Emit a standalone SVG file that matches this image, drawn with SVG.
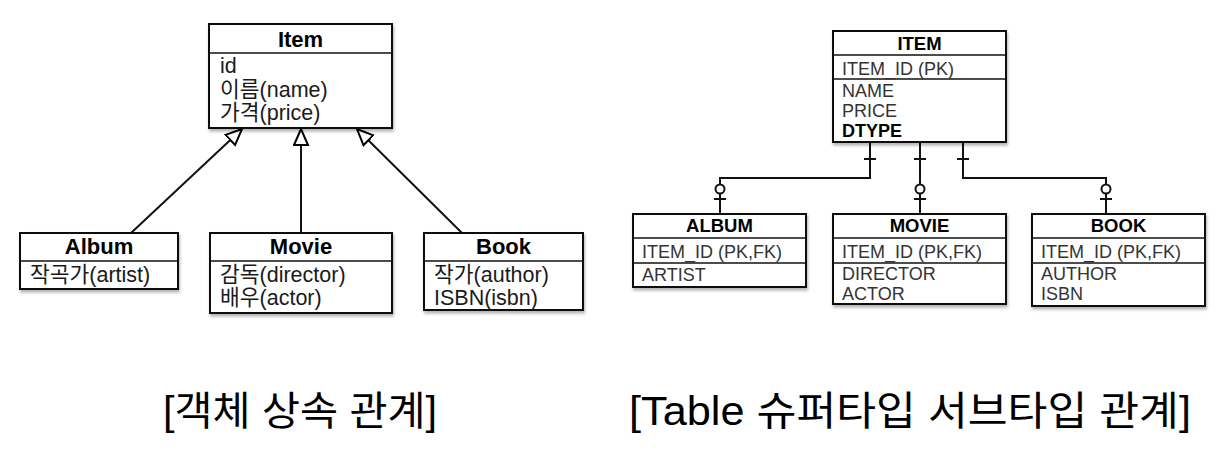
<svg xmlns="http://www.w3.org/2000/svg" width="1220" height="460" viewBox="0 0 1220 460">
<defs>
<filter id="sh" x="-10%" y="-10%" width="120%" height="130%">
<feDropShadow dx="1" dy="2.5" stdDeviation="1.5" flood-color="#000" flood-opacity="0.3"/>
</filter>
<marker id="tri" markerUnits="userSpaceOnUse" markerWidth="20" markerHeight="20" refX="17" refY="8" orient="auto">
<path d="M1,1 L17,8 L1,15 Z" fill="#fff" stroke="#000" stroke-width="2"/>
</marker>
<style>
.box{fill:#fff;stroke:#111;stroke-width:2;filter:url(#sh)}
.div{stroke:#111;stroke-width:1.6}
.t{font-family:"Liberation Sans","Noto Sans CJK KR",sans-serif;font-size:21.5px;fill:#1a1a1a}
.h{font-family:"Liberation Sans","Noto Sans CJK KR",sans-serif;font-size:22px;fill:#000;font-weight:bold;text-anchor:middle}
.r{font-family:"Liberation Sans","Noto Sans CJK KR",sans-serif;font-size:18px;fill:#333}
.rh{font-family:"Liberation Sans","Noto Sans CJK KR",sans-serif;font-size:18.5px;fill:#000;font-weight:bold;text-anchor:middle}
.cap{font-family:"Liberation Sans","Noto Sans CJK KR",sans-serif;font-size:40px;fill:#000;text-anchor:middle}
.ln{stroke:#111;stroke-width:2;fill:none}
.ring{fill:#fff;stroke:#111;stroke-width:2}
</style>
</defs>

<g id="connectors">
<line class="ln" x1="131" y1="233" x2="242" y2="129" marker-end="url(#tri)"/>
<line class="ln" x1="301" y1="233" x2="301" y2="129" marker-end="url(#tri)"/>
<line class="ln" x1="462" y1="233" x2="357" y2="129" marker-end="url(#tri)"/>

<polyline class="ln" points="870,142 870,178 720,178 720,214"/>
<line class="ln" x1="864" y1="159" x2="876" y2="159"/>
<circle class="ring" cx="720" cy="189" r="4.5"/>
<line class="ln" x1="714" y1="199" x2="726" y2="199"/>

<line class="ln" x1="920" y1="142" x2="920" y2="214"/>
<line class="ln" x1="914" y1="159" x2="926" y2="159"/>
<circle class="ring" cx="920" cy="189" r="4.5"/>
<line class="ln" x1="914" y1="199" x2="926" y2="199"/>

<polyline class="ln" points="963,142 963,178 1106,178 1106,214"/>
<line class="ln" x1="957" y1="159" x2="969" y2="159"/>
<circle class="ring" cx="1106" cy="189" r="4.5"/>
<line class="ln" x1="1100" y1="199" x2="1112" y2="199"/>
</g>

<g id="item">
<rect class="box" x="209" y="24" width="183" height="104"/>
<line class="div" x1="209" y1="53" x2="392" y2="53"/>
<text class="h" x="300.5" y="47">Item</text>
<text class="t" x="220" y="73">id</text>
<text class="t" x="220" y="97">이름(name)</text>
<text class="t" x="220" y="120">가격(price)</text>
</g>

<g id="album">
<rect class="box" x="20" y="233" width="158" height="56"/>
<line class="div" x1="20" y1="261" x2="178" y2="261"/>
<text class="h" x="99" y="254">Album</text>
<text class="t" x="30" y="282">작곡가(artist)</text>
</g>

<g id="movie">
<rect class="box" x="210" y="233" width="182" height="80"/>
<line class="div" x1="210" y1="261" x2="392" y2="261"/>
<text class="h" x="301" y="254">Movie</text>
<text class="t" x="220" y="282">감독(director)</text>
<text class="t" x="220" y="305">배우(actor)</text>
</g>

<g id="book">
<rect class="box" x="424" y="233" width="159" height="77"/>
<line class="div" x1="424" y1="261" x2="583" y2="261"/>
<text class="h" x="503.5" y="254">Book</text>
<text class="t" x="434" y="282">작가(author)</text>
<text class="t" x="434" y="305">ISBN(isbn)</text>
</g>

<g id="ITEM">
<rect class="box" x="833" y="31" width="173" height="111"/>
<line class="div" x1="833" y1="55" x2="1006" y2="55"/>
<line class="div" x1="833" y1="79" x2="1006" y2="79"/>
<text class="rh" x="919.5" y="50">ITEM</text>
<text class="r" x="842" y="75">ITEM_ID (PK)</text>
<text class="r" x="842" y="97">NAME</text>
<text class="r" x="842" y="117">PRICE</text>
<text class="r" x="842" y="137" style="font-weight:bold;fill:#000">DTYPE</text>
</g>

<g id="ALBUM">
<rect class="box" x="633" y="214" width="173" height="73"/>
<line class="div" x1="633" y1="238" x2="806" y2="238"/>
<line class="div" x1="633" y1="263" x2="806" y2="263"/>
<text class="rh" x="719.5" y="232">ALBUM</text>
<text class="r" x="642" y="258">ITEM_ID (PK,FK)</text>
<text class="r" x="642" y="281">ARTIST</text>
</g>

<g id="MOVIE">
<rect class="box" x="833" y="214" width="173" height="90"/>
<line class="div" x1="833" y1="238" x2="1006" y2="238"/>
<line class="div" x1="833" y1="263" x2="1006" y2="263"/>
<text class="rh" x="919.5" y="232">MOVIE</text>
<text class="r" x="842" y="258">ITEM_ID (PK,FK)</text>
<text class="r" x="842" y="280">DIRECTOR</text>
<text class="r" x="842" y="300">ACTOR</text>
</g>

<g id="BOOK">
<rect class="box" x="1032" y="214" width="173" height="92"/>
<line class="div" x1="1032" y1="238" x2="1205" y2="238"/>
<line class="div" x1="1032" y1="263" x2="1205" y2="263"/>
<text class="rh" x="1118.5" y="232">BOOK</text>
<text class="r" x="1041" y="258">ITEM_ID (PK,FK)</text>
<text class="r" x="1041" y="280">AUTHOR</text>
<text class="r" x="1041" y="300">ISBN</text>
</g>

<g id="captions">
<text class="cap" x="300" y="425" textLength="274" lengthAdjust="spacingAndGlyphs">[객체 상속 관계]</text>
<text class="cap" x="910" y="425" textLength="562" lengthAdjust="spacingAndGlyphs">[Table 슈퍼타입 서브타입 관계]</text>
</g>
</svg>
